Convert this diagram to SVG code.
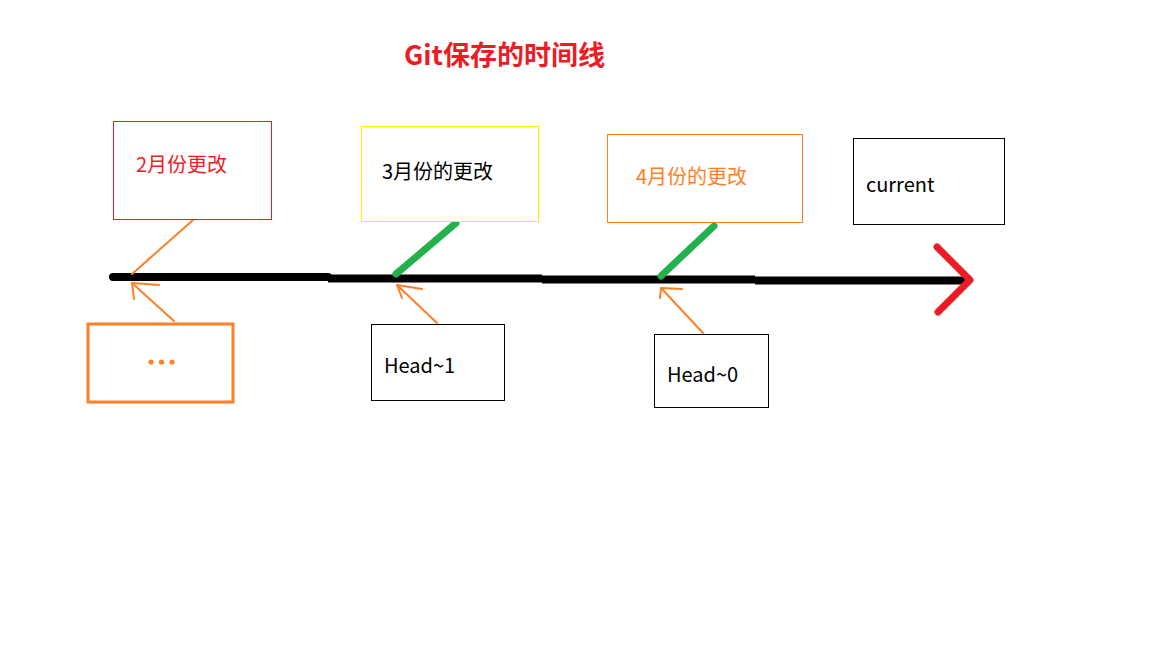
<svg xmlns="http://www.w3.org/2000/svg" width="1152" height="648" viewBox="0 0 1152 648">
<style>
text{font-family:"Noto Sans CJK SC","Noto Sans",sans-serif;font-size:20px}
.title{font-size:27px;font-weight:bold}
.box{fill:#fff;stroke-width:1}
.or{stroke:#FF7F27;stroke-width:2;fill:none;stroke-linecap:round;stroke-linejoin:round}
.gr{stroke:#22B14C;stroke-width:7;stroke-linecap:round;fill:none}
.tl{stroke:#000;stroke-width:8;fill:none}
</style>
<rect width="1152" height="648" fill="#fff"/>
<text id="title" class="title" x="404" y="65" fill="#ED1C24">Git保存的时间线</text>
<g id="connectors">
<line class="tl" x1="113" y1="277" x2="328" y2="277" stroke-linecap="round"/>
<line class="tl" x1="328" y1="278.5" x2="542" y2="278.5"/>
<line class="tl" x1="542" y1="279.5" x2="755" y2="279.5"/>
<line class="tl" x1="755" y1="280.5" x2="968" y2="280.5"/>
<polyline points="937,247 970,280 938,312" fill="none" stroke="#ED1C24" stroke-width="7" stroke-linecap="round" stroke-linejoin="round"/>
<line class="gr" x1="396" y1="274" x2="456" y2="223"/>
<line class="gr" x1="661" y1="276" x2="714" y2="226"/>
<line class="or" x1="193" y1="220" x2="132" y2="274"/>
<polyline class="or" points="159,285 132,283 134,299"/>
<line class="or" x1="132" y1="283" x2="174" y2="321"/>
<polyline class="or" points="422,289 397,285 402,298"/>
<line class="or" x1="397" y1="285" x2="437" y2="323"/>
<polyline class="or" points="682,289 661,288 660,298"/>
<line class="or" x1="661" y1="288" x2="703" y2="333"/>
</g>
<g id="feb">
<rect class="box" x="113.5" y="121.5" width="158" height="98" stroke="#ED1C24"/>
<text x="136" y="172" fill="#ED1C24">2月份更改</text>
</g>
<g id="mar">
<rect class="box" x="361.5" y="126.5" width="177" height="95" stroke="#FFF200"/>
<text x="382" y="179" fill="#000">3月份的更改</text>
</g>
<g id="apr">
<rect class="box" x="607.5" y="134.5" width="195" height="88" stroke="#FF7F27"/>
<text x="636" y="184" fill="#FF7F27">4月份的更改</text>
</g>
<g id="current">
<rect class="box" x="853.5" y="138.5" width="151" height="86" stroke="#000"/>
<text x="866" y="192" fill="#000">current</text>
</g>
<g id="ellipsis">
<rect x="88" y="324" width="145" height="78" fill="#fff" stroke="#FF7F27" stroke-width="3"/>
<circle cx="151" cy="362" r="2.6" fill="#FF7F27"/>
<circle cx="161.5" cy="362" r="2.6" fill="#FF7F27"/>
<circle cx="172" cy="362" r="2.6" fill="#FF7F27"/>
</g>
<g id="head1">
<rect class="box" x="371.5" y="324.5" width="133" height="76" stroke="#000"/>
<text x="384" y="373" fill="#000">Head~1</text>
</g>
<g id="head0">
<rect class="box" x="654.5" y="334.5" width="114" height="73" stroke="#000"/>
<text x="667" y="382" fill="#000">Head~0</text>
</g>
</svg>
